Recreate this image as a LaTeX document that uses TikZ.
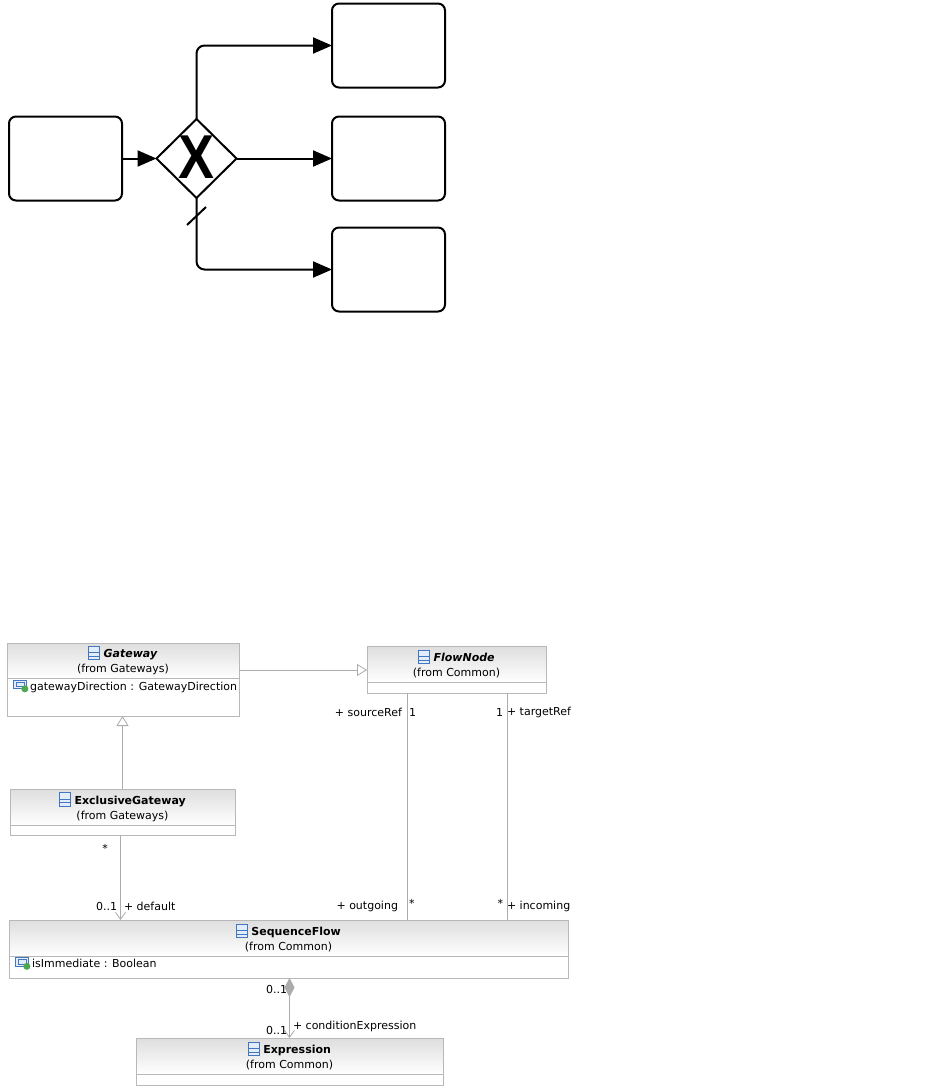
\documentclass[tikz,border=0pt]{standalone}
\usepackage{fontspec}
\setmainfont{DejaVu Sans}
\newfontfamily\markfont{Liberation Sans}
\usetikzlibrary{arrows.meta, positioning, shapes.geometric}
\definecolor{linegray}{RGB}{172,172,172}
\definecolor{boxgray}{RGB}{184,184,184}
\definecolor{headgray}{RGB}{222,222,222}
\definecolor{iconblue}{RGB}{66,118,190}
\definecolor{iconfill}{RGB}{226,236,250}
\definecolor{attrgreen}{RGB}{76,168,80}

\newcommand{\clsicon}{\tikz[baseline=0pt,x=1pt,y=1pt,line width=0.8pt]{%
  \draw[iconblue,fill=iconfill] (0,-2) rectangle (11,11.5);
  \draw[iconblue] (0,1.8) -- (11,1.8) (0,5.2) -- (11,5.2);}}
\newcommand{\attricon}{\tikz[baseline=0pt,x=1pt,y=1pt,line width=0.7pt]{%
  \draw[iconblue,fill=iconfill] (0,1.5) rectangle (13,10);
  \draw[iconblue] (2.5,3.5) rectangle (10.5,8);
  \fill[attrgreen] (11.5,1.2) circle (3.5);}}

\begin{document}
\begin{tikzpicture}[
    x=1pt, y=-1pt,
    every node/.style={font=\fontsize{11}{15}\selectfont, inner sep=0pt, outer sep=0pt},
    task/.style={draw, line width=2pt, rounded corners=7pt,
                 minimum width=113pt, minimum height=84pt},
    gateway/.style={diamond, draw, line width=2pt,
                    minimum width=80pt, minimum height=79pt},
    flow/.style={line width=2pt, rounded corners=8pt,
                 -{Triangle[length=19pt, width=16pt]}},
    classhead/.style={draw=boxgray, line width=0.8pt, top color=headgray,
                      bottom color=white, align=center, minimum height=36pt},
    classbody/.style={draw=boxgray, line width=0.8pt, fill=white},
    link/.style={draw=linegray, line width=0.8pt},
    gen/.style={link, -{Triangle[open, length=10pt, width=12pt, fill=white]}},
    nav/.style={link, -{Straight Barb[length=7pt, width=10pt]}},
    comp/.style={link, {Diamond[length=19pt, width=10pt, fill=linegray]}-{Straight Barb[length=7pt, width=10pt]}},
    role/.style={font=\fontsize{11}{12}\selectfont}
]
\path[fill=white, use as bounding box] (0,0) rectangle (929,1090);

% BPMN exclusive gateway
\node (src) [task] at (65.5,158.5) {};
\node (gw) [gateway] at (196.5,158.5) {};
\node (gwmark) at (196.5,157.5) {\markfont\bfseries\fontsize{62}{62}\selectfont\scalebox{0.87}[1]{X}};
\node (taska) [task] at (388.5,45.5) {};
\node (taskb) [task] at (388.5,158.5) {};
\node (taskc) [task] at (388.5,269.5) {};

\draw [flow] (src) -- (gw);
\draw [flow] (gw.north) |- (taska);
\draw [flow] (gw.east) -- (taskb);
\draw [flow] (gw.south) |- (taskc);
% default flow marker
\draw [line width=2pt] (187,225) -- (206,207);

% Gateway
\node (gwhead) [classhead, minimum width=232pt, minimum height=35pt] at (123,660.5)
    {\clsicon\ \textbf{\textit{Gateway}}\\(from Gateways)};
\node (gwbody) [classbody, below=0pt of gwhead, minimum width=232pt, minimum height=38pt] {};
\node (gwattr) [anchor=west] at (13,686) {\attricon\,gatewayDirection : GatewayDirection};

% ExclusiveGateway
\node (exhead) [classhead, minimum width=225pt] at (122.5,807)
    {\clsicon\ \textbf{ExclusiveGateway}\\(from Gateways)};
\node (exbody) [classbody, below=0pt of exhead, minimum width=225pt, minimum height=10pt] {};

% FlowNode
\node (fnhead) [classhead, minimum width=179pt] at (456.5,664)
    {\clsicon\ \textbf{\textit{FlowNode}}\\(from Common)};
\node (fnbody) [classbody, below=0pt of fnhead, minimum width=179pt, minimum height=11pt] {};

% SequenceFlow
\node (sfhead) [classhead, minimum width=559pt] at (288.5,938)
    {\clsicon\ \textbf{SequenceFlow}\\(from Common)};
\node (sfbody) [classbody, below=0pt of sfhead, minimum width=559pt, minimum height=22pt] {};
\node (sfattr) [anchor=west] at (15,963.5) {\attricon\,isImmediate : Boolean};

% Expression
\node (exphead) [classhead, minimum width=307pt] at (289.5,1056)
    {\clsicon\ \textbf{Expression}\\(from Common)};
\node (expbody) [classbody, below=0pt of exphead, minimum width=307pt, minimum height=11pt] {};

% Associations
\draw [gen] (exhead.north) -- (exhead.north |- gwbody.south);
\draw [gen] ([yshift=-9.5pt]gwhead.east) -- ([yshift=-9.5pt]gwhead.east -| fnhead.west);
\draw [nav] ([xshift=-2pt]exbody.south) -- ([xshift=-2pt]exbody.south |- sfhead.north);
\draw [link] ([xshift=-49.5pt]fnbody.south) -- ([xshift=-49.5pt]fnbody.south |- sfhead.north);
\draw [link] ([xshift=50.5pt]fnbody.south) -- ([xshift=50.5pt]fnbody.south |- sfhead.north);
\draw [comp] (sfbody.south -| exphead.north) -- (exphead.north);

% Role names and multiplicities
\node (srcrole) [role, anchor=east] at (402,712) {+ sourceRef};
\node (srcmult) [role, anchor=west] at (409,712) {1};
\node (tgtmult) [role, anchor=east] at (503,712) {1};
\node (tgtrole) [role, anchor=west] at (507,712) {+ targetRef};
\node (exmult) [role] at (105,848) {*};
\node (defmult) [role, anchor=east] at (117,906) {0..1};
\node (defrole) [role, anchor=west] at (124,906) {+ default};
\node (outrole) [role, anchor=east] at (398,906) {+ outgoing};
\node (outmult) [role, anchor=west] at (409,903) {*};
\node (inmult) [role, anchor=east] at (503,903) {*};
\node (inrole) [role, anchor=west] at (507,906) {+ incoming};
\node (ownmult) [role, anchor=east] at (287,989) {0..1};
\node (condmult) [role, anchor=east] at (287,1030) {0..1};
\node (condrole) [role, anchor=west] at (293,1026) {+ conditionExpression};

\end{tikzpicture}
\end{document}
